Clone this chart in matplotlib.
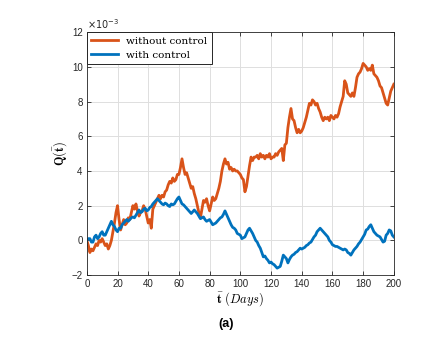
import matplotlib
matplotlib.use("Agg")
import matplotlib.pyplot as plt
import numpy as np

plt.rcParams['mathtext.fontset'] = 'cm'

days = list(range(0, 201))

without_control = [
    0.0, -0.3, -0.7, -0.5, -0.6, -0.4, -0.2, -0.3, 0.0, -0.1,
    0.1, -0.1, -0.3, -0.2, -0.5, -0.3, 0.0, 0.5, 1.0, 1.6,
    2.0, 1.2, 0.6, 0.9, 1.2, 0.9, 1.0, 1.3, 1.2, 1.6,
    2.0, 1.8, 2.1, 1.7, 1.4, 1.6, 1.7, 2.0, 1.8, 1.4,
    1.0, 1.2, 0.7, 1.8, 2.0, 2.2, 2.4, 2.6, 2.4, 2.6,
    2.5, 2.8, 2.9, 3.2, 3.4, 3.3, 3.6, 3.4, 3.5, 3.8,
    3.8, 4.2, 4.7, 4.2, 3.8, 3.9, 3.6, 3.3, 3.0, 3.1,
    2.7, 2.4, 2.0, 1.6, 1.3, 1.8, 2.3, 2.2, 2.4, 2.0,
    1.7, 2.1, 2.5, 2.3, 2.4, 2.7, 3.0, 3.4, 4.0, 4.4,
    4.7, 4.4, 4.5, 4.1, 4.2, 4.0, 4.1, 4.0, 4.0, 3.9,
    3.8, 3.6, 3.5, 2.8, 3.1, 3.7, 4.3, 4.8, 4.6, 4.8,
    4.8, 4.9, 4.7, 5.0, 4.8, 4.9, 4.7, 4.9, 4.8, 5.0,
    4.7, 4.8, 4.8, 5.0, 4.9, 5.1, 5.2, 5.3, 4.6, 5.5,
    5.6, 6.5, 7.1, 7.6, 7.0, 6.9, 6.5, 6.2, 6.4, 6.2,
    6.3, 6.5, 6.8, 7.1, 7.5, 7.9, 7.8, 8.1, 8.0, 7.8,
    7.9, 7.6, 7.4, 7.1, 6.9, 7.1, 7.0, 7.1, 6.9, 7.2,
    7.1, 7.0, 7.2, 7.1, 7.3, 7.7, 8.0, 8.3, 9.2, 9.0,
    8.5, 8.4, 8.3, 8.5, 8.3, 8.8, 9.4, 9.6, 9.7, 9.9,
    10.2, 10.1, 10.0, 9.8, 9.9, 9.8, 10.1, 9.6, 9.5, 9.4,
    9.2, 8.9, 8.8, 8.5, 8.2, 7.9, 7.8, 8.2, 8.6, 8.8,
    9.0,
]

with_control = [
    0.0, 0.1, 0.1, -0.1, -0.1, 0.2, 0.3, 0.1, 0.2, 0.4,
    0.5, 0.3, 0.3, 0.5, 0.7, 0.9, 1.1, 0.9, 0.8, 0.6,
    0.5, 0.7, 0.7, 0.9, 1.0, 1.1, 1.2, 1.1, 1.2, 1.3,
    1.35, 1.3, 1.45, 1.6, 1.75, 1.6, 1.65, 1.8, 1.85, 1.7,
    1.75, 1.9, 1.95, 2.1, 2.2, 2.3, 2.4, 2.3, 2.2, 2.1,
    2.05, 2.15, 2.1, 2.0, 1.95, 2.1, 2.05, 2.1, 2.25, 2.4,
    2.5, 2.3, 2.1, 2.05, 1.95, 1.85, 1.75, 1.65, 1.55, 1.65,
    1.75, 1.65, 1.55, 1.4, 1.25, 1.3, 1.35, 1.2, 1.1, 1.15,
    1.2, 1.05, 0.9, 0.95, 1.0, 1.1, 1.2, 1.3, 1.35, 1.5,
    1.7, 1.5, 1.3, 1.1, 0.9, 0.75, 0.7, 0.6, 0.4, 0.35,
    0.3, 0.1, 0.15, 0.2, 0.4, 0.6, 0.7, 0.55, 0.4, 0.2,
    0.0, -0.1, -0.3, -0.45, -0.7, -0.95, -0.9, -1.05, -1.15, -1.3,
    -1.25, -1.35, -1.4, -1.5, -1.6, -1.55, -1.5, -1.2, -0.85, -0.95,
    -1.05, -1.3, -1.1, -0.95, -0.85, -0.8, -0.7, -0.65, -0.55, -0.45,
    -0.5, -0.45, -0.4, -0.3, -0.25, -0.15, -0.1, 0.05, 0.2, 0.3,
    0.5, 0.6, 0.7, 0.6, 0.5, 0.4, 0.3, 0.2, 0.0, -0.1,
    -0.25, -0.3, -0.35, -0.35, -0.4, -0.45, -0.5, -0.55, -0.5, -0.55,
    -0.7, -0.75, -0.85, -0.7, -0.55, -0.45, -0.35, -0.2, -0.1, 0.05,
    0.2, 0.35, 0.6, 0.65, 0.8, 0.9, 0.7, 0.5, 0.4, 0.3,
    0.25, 0.2, 0.05, -0.1, -0.05, 0.3, 0.4, 0.6, 0.55, 0.3,
    0.2,
]

x_ticks = [0, 20, 40, 60, 80, 100, 120, 140, 160, 180, 200]
y_ticks = [-2, 0, 2, 4, 6, 8, 10, 12]

fig = plt.figure(figsize=(4.43, 3.46), dpi=100)
ax = fig.add_axes([0.196, 0.205, 0.693, 0.702])

ax.plot(days, without_control, color='#D95319', lw=2.0, label='without control')
ax.plot(days, with_control, color='#0072BD', lw=2.0, label='with control')

ax.set_xlim(0, 200)
ax.set_ylim(-2, 12)
ax.set_xticks(x_ticks)
ax.set_yticks(y_ticks)
ax.tick_params(direction='in', length=3, width=0.6, labelsize=7,
               top=True, right=True, pad=3, colors='#262626')
for lbl in ax.get_xticklabels() + ax.get_yticklabels():
    lbl.set_fontfamily('Liberation Sans')
ax.grid(True, color='#dedede', lw=0.7)
ax.set_axisbelow(True)
for s in ax.spines.values():
    s.set_linewidth(0.6)
    s.set_color('#262626')

ax.text(0.0, 1.003, r'$\times10^{-3}$', transform=ax.transAxes,
        fontsize=7, ha='left', va='bottom', color='#262626',
        math_fontfamily='dejavusans')

ax.set_ylabel(r'$\mathbf{Q(\bar{t})}$', fontsize=9, labelpad=2)
ax.set_xlabel(r'$\bar{\mathbf{t}}\ (Days)$', fontsize=9, labelpad=1)

leg = ax.legend(loc='upper left', borderaxespad=0, fancybox=False,
                edgecolor='#262626', framealpha=1, handlelength=2.6,
                borderpad=0.4, labelspacing=0.5,
                prop={'family': 'DejaVu Serif', 'size': 7.5})
leg.get_frame().set_linewidth(0.7)

fig.text(0.51, 0.065, '(a)', fontsize=9, fontweight='bold',
         family='Liberation Sans', ha='center', va='center')

fig.savefig('out.png', dpi=100)
